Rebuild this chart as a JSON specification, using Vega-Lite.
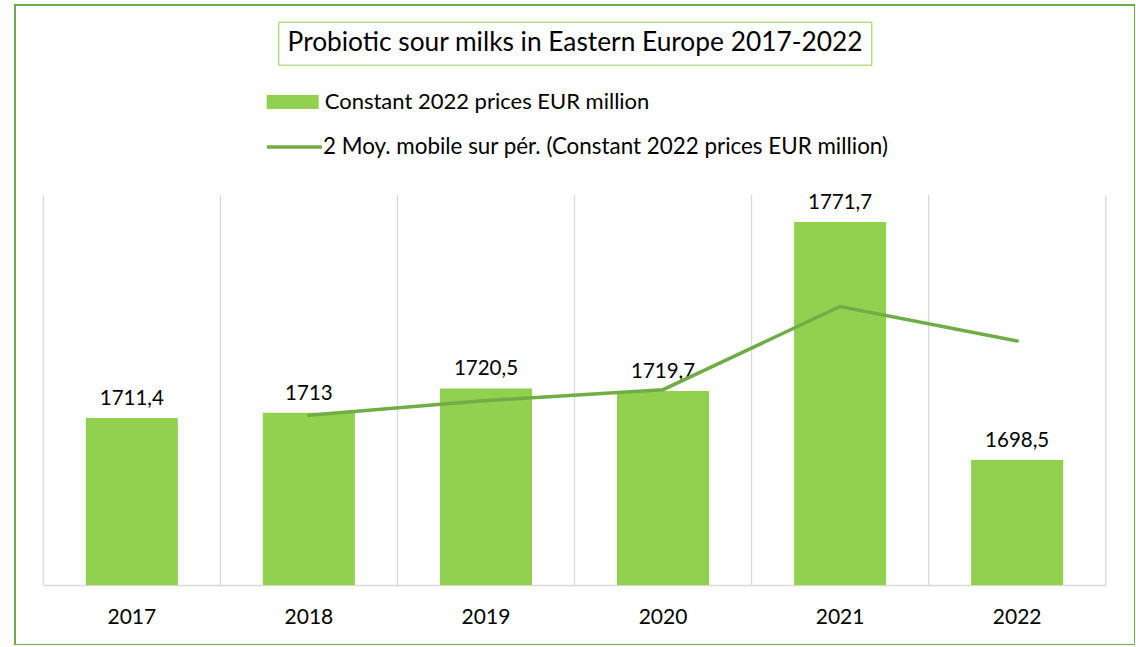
{
  "$schema": "https://vega.github.io/schema/vega-lite/v6.json",
  "width": 1120,
  "height": 640,
  "padding": {"left": 15, "top": 5, "right": 0, "bottom": 0},
  "background": "white",
  "config": {
    "view": {"stroke": "#70AD47", "strokeWidth": 2},
    "font": "Lato",
    "locale": {"number": {"decimal": ",", "thousands": " ", "grouping": [3], "currency": ["", " €"]}}
  },
  "data": {
    "values": [
      {"year": "2017", "value": 1711.4, "ma": null},
      {"year": "2018", "value": 1713.0, "ma": 1712.2},
      {"year": "2019", "value": 1720.5, "ma": 1716.75},
      {"year": "2020", "value": 1719.7, "ma": 1720.1},
      {"year": "2021", "value": 1771.7, "ma": 1745.7},
      {"year": "2022", "value": 1698.5, "ma": 1735.1}
    ]
  },
  "encoding": {
    "x": {
      "field": "year",
      "type": "ordinal",
      "scale": {"range": [28.3, 1090.7], "paddingInner": 0, "paddingOuter": 0},
      "axis": {
        "title": null,
        "labelAngle": 0,
        "labelFont": "Lato",
        "labelFontSize": 21,
        "labelColor": "#000000",
        "labelPadding": 21,
        "ticks": false,
        "tickSize": 0,
        "grid": false,
        "domainColor": "#D9D9D9",
        "domainWidth": 1.5,
        "offset": -60
      }
    },
    "y": {"field": "value", "type": "quantitative", "scale": {"domain": [1660, 1780], "range": [580, 190], "zero": false, "nice": false}, "axis": null}
  },
  "layer": [
    {
      "mark": {"type": "rule", "color": "#D9D9D9", "strokeWidth": 1.3},
      "encoding": {
        "x": {"field": "year", "type": "ordinal", "bandPosition": 0},
        "y": {"datum": 1660},
        "y2": {"datum": 1780}
      }
    },
    {
      "transform": [{"filter": "datum.year == '2022'"}],
      "mark": {"type": "rule", "color": "#D9D9D9", "strokeWidth": 1.3},
      "encoding": {
        "x": {"field": "year", "type": "ordinal", "bandPosition": 1},
        "y": {"datum": 1660},
        "y2": {"datum": 1780}
      }
    },
    {
      "mark": {"type": "bar", "width": {"band": 0.52}},
      "encoding": {
        "y2": {"datum": 1660},
        "color": {
          "datum": "Constant 2022 prices EUR million",
          "type": "nominal",
          "scale": {"range": ["#92D050"]},
          "legend": {
            "orient": "none", "legendX": 251.7, "legendY": 71, "title": null, "padding": 0,
            "symbolType": "M-1,-0.269L1,-0.269L1,0.269L-1,0.269Z", "symbolSize": 2704, "symbolStrokeWidth": 0,
            "labelOffset": 6, "labelFont": "Lato", "labelFontSize": 22, "labelColor": "#000000", "labelLimit": 800
          }
        },
        "opacity": {
          "datum": "Probiotic sour milks in Eastern Europe 2017-2022",
          "type": "nominal",
          "scale": {"range": [1]},
          "legend": {
            "orient": "none", "legendX": 263.3, "legendY": 16.7, "title": null, "padding": 8,
            "strokeColor": "#92D050", "symbolOpacity": 0, "symbolSize": 0, "labelOffset": -25,
            "labelFont": "Lato", "labelFontSize": 26.3, "labelColor": "#000000", "labelLimit": 900
          }
        }
      }
    },
    {
      "mark": {"type": "text", "baseline": "alphabetic", "dy": -13, "font": "Lato", "fontSize": 20.5, "color": "#000000"},
      "encoding": {
        "text": {"field": "value", "type": "quantitative", "format": "~g"}
      }
    },
    {
      "mark": {"type": "line", "strokeWidth": 3.5, "strokeCap": "round"},
      "encoding": {
        "y": {"field": "ma", "type": "quantitative"},
        "stroke": {
          "datum": "2 Moy. mobile sur pér. (Constant 2022 prices EUR million)",
          "type": "nominal",
          "scale": {"range": ["#70AD47"]},
          "legend": {
            "orient": "none", "legendX": 250, "legendY": 112.5, "title": null, "padding": 0,
            "symbolType": "stroke", "symbolSize": 3025, "symbolStrokeWidth": 3.5,
            "labelOffset": -1, "labelFont": "Lato", "labelFontSize": 22.4, "labelColor": "#000000", "labelLimit": 900
          }
        }
      }
    }
  ]
}
